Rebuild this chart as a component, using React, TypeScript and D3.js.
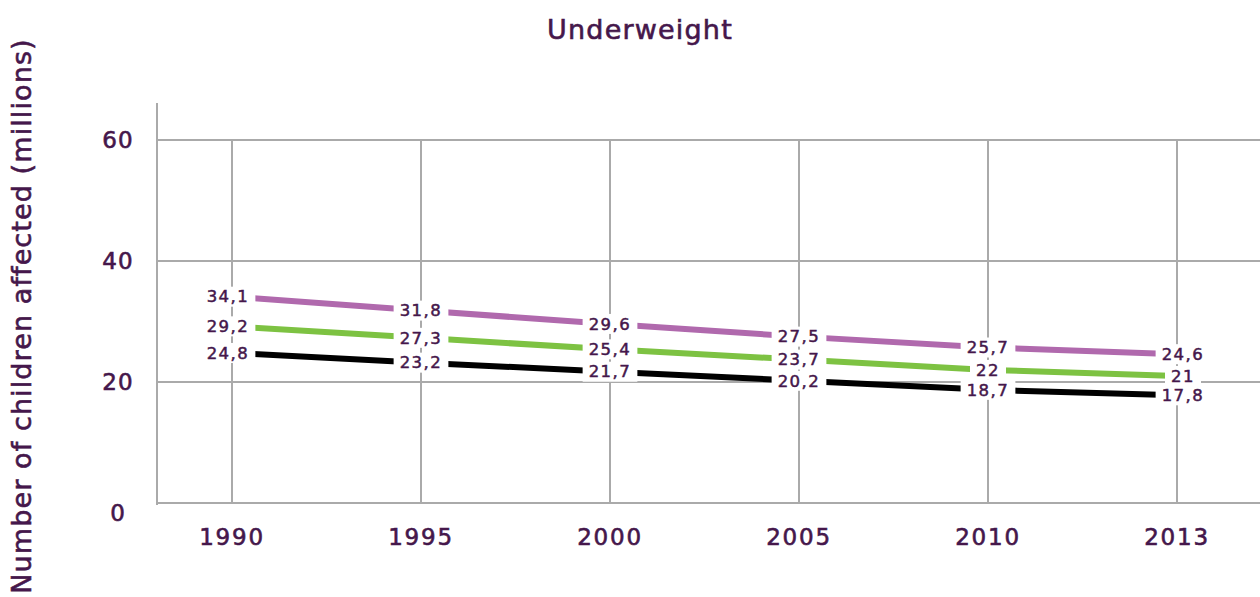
import React, { useEffect, useRef } from 'react';
import * as d3 from 'd3';

const years = ['1990', '1995', '2000', '2005', '2010', '2013'];
const purpleSeries = [34.1, 31.8, 29.6, 27.5, 25.7, 24.6];
const greenSeries = [29.2, 27.3, 25.4, 23.7, 22, 21];
const blackSeries = [24.8, 23.2, 21.7, 20.2, 18.7, 17.8];
const yTicks = [0, 20, 40, 60];

const seriesList = [
  { name: 'purple', values: purpleSeries, color: '#b069ad' },
  { name: 'green', values: greenSeries, color: '#7dc242' },
  { name: 'black', values: blackSeries, color: '#000000' },
];

const textColor = '#45174b';
const fontFamily = '"DejaVu Sans", sans-serif';

export default function App() {
  const svgRef = useRef<SVGSVGElement | null>(null);

  useEffect(() => {
    if (!svgRef.current) return;
    const width = 1260;
    const height = 597;

    const svg = d3.select(svgRef.current);
    svg.selectAll('*').remove();

    const x = d3.scalePoint<string>().domain(years).range([232, 1177]);
    const y = d3.scaleLinear().domain([0, 60]).range([503, 140]);

    // little helper so all text gets the same heavier look
    const styleText = (sel: any, size: number, spacing: number, sw = 0.6) =>
      sel.style('font-family', fontFamily)
        .style('font-size', `${size}px`)
        .style('letter-spacing', `${spacing}px`)
        .style('fill', textColor)
        .style('stroke', textColor)
        .style('stroke-width', sw);

    // grid
    const grid = svg.append('g').attr('stroke', '#aaaaaa').attr('stroke-width', 2);
    yTicks.forEach(t => {
      grid.append('line')
        .attr('x1', 157).attr('x2', width)
        .attr('y1', y(t)).attr('y2', y(t));
    });
    years.forEach(yr => {
      grid.append('line')
        .attr('x1', x(yr)!).attr('x2', x(yr)!)
        .attr('y1', y(60)).attr('y2', y(0));
    });
    grid.append('line')
      .attr('x1', 157).attr('x2', 157)
      .attr('y1', 103).attr('y2', y(0) + 2);

    // y tick labels
    styleText(svg.append('g').selectAll('text')
      .data(yTicks)
      .enter()
      .append('text')
      .attr('x', 118)
      .attr('y', (d: number) => (d === 0 ? y(d) + 10 : y(d)))
      .attr('dy', '0.35em')
      .attr('text-anchor', 'middle')
      .text((d: number) => d), 23, 1);

    // x tick labels
    styleText(svg.append('g').selectAll('text')
      .data(years)
      .enter()
      .append('text')
      .attr('x', (d: string) => x(d)!)
      .attr('y', 537)
      .attr('dy', '0.35em')
      .attr('text-anchor', 'middle')
      .text((d: string) => d), 23, 1.8);

    // lines
    const line = d3.line<number>()
      .x((_, i) => x(years[i])!)
      .y(d => y(d));

    seriesList.forEach(s => {
      svg.append('path')
        .datum(s.values)
        .attr('d', line)
        .attr('fill', 'none')
        .attr('stroke', s.color)
        .attr('stroke-width', 6);
    });

    // value labels with white boxes, end labels nudged outward a bit
    const labels = svg.append('g');
    const last = years.length - 1;
    seriesList.forEach(s => {
      s.values.forEach((v, i) => {
        const nudge = i === 0 ? -4 : i === last ? 6 : 0;
        const g = labels.append('g')
          .attr('transform', `translate(${x(years[i])! + nudge},${y(v)})`);
        const txt = String(v).replace('.', ',');
        const rect = g.append('rect').attr('fill', 'white');
        const t = styleText(g.append('text')
          .attr('text-anchor', 'middle')
          .attr('dy', '0.35em')
          .text(txt), 16.5, 1.5, 0.5);
        const w = (t.node() as SVGTextElement).getComputedTextLength();
        rect.attr('x', -w / 2 - 6).attr('y', -10).attr('width', w + 12).attr('height', 20);
      });
    });

    // title
    styleText(svg.append('text')
      .attr('x', 640)
      .attr('y', 30)
      .attr('dy', '0.35em')
      .attr('text-anchor', 'middle')
      .text('Underweight'), 27, 1.2);

    styleText(svg.append('text')
      .attr('transform', 'translate(22,316) rotate(-90)')
      .attr('dy', '0.35em')
      .attr('text-anchor', 'middle')
      .text('Number of children affected (millions)'), 27, 1.1);

    svg.attr('width', width).attr('height', height);
  }, []);

  return (
    <div style={{ position: 'absolute', left: 0, top: 0 }}>
      <svg ref={svgRef} style={{ display: 'block' }}></svg>
    </div>
  );
}
